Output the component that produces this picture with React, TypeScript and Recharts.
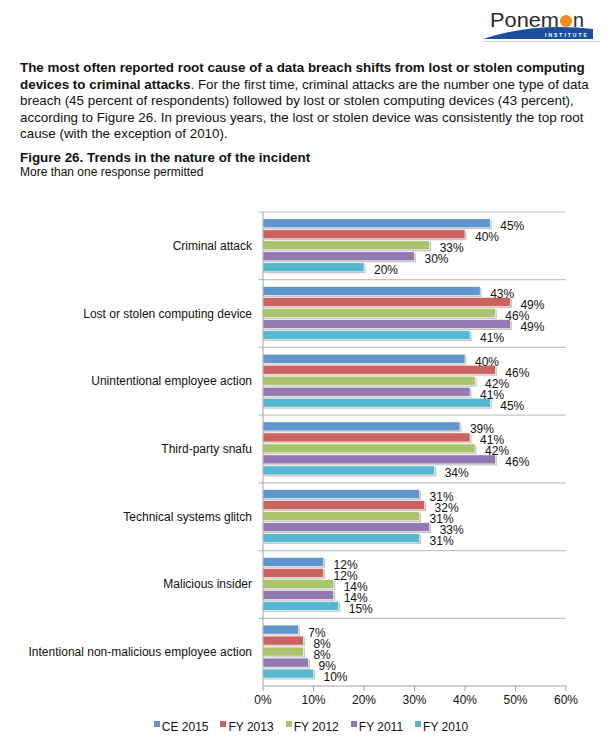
import React from 'react'
import { BarChart, Bar, XAxis, YAxis, CartesianGrid, Legend, LabelList } from 'recharts'

const categories = [
  'Criminal attack',
  'Lost or stolen computing device',
  'Unintentional employee action',
  'Third-party snafu',
  'Technical systems glitch',
  'Malicious insider',
  'Intentional non-malicious employee action',
]
const seriesNames = ['CE 2015', 'FY 2013', 'FY 2012', 'FY 2011', 'FY 2010']
const ce2015 = [45, 43, 40, 39, 31, 12, 7]
const fy2013 = [40, 49, 46, 41, 32, 12, 8]
const fy2012 = [33, 46, 42, 42, 31, 14, 8]
const fy2011 = [30, 49, 41, 46, 33, 14, 9]
const fy2010 = [20, 41, 45, 34, 31, 15, 10]
const xTicks = [0, 10, 20, 30, 40, 50, 60]
const colors = ['#6096cb', '#cd6360', '#a9c46c', '#9279b1', '#56b7d1']

const seriesValues = [ce2015, fy2013, fy2012, fy2011, fy2010]
const data = categories.map((name, i) => {
  const row: Record<string, string | number> = { name }
  seriesNames.forEach((s, j) => { row[s] = seriesValues[j][i] })
  return row
})

const font = '"Liberation Sans", Arial, Helvetica, sans-serif'

function ShadowBar(props: any) {
  const { x, y, width, height, fill } = props
  if (!width || width <= 0) return null
  return (
    <g>
      <rect x={x + 1.5} y={y + 1.5} width={width} height={height} fill="#c4c4c4" />
      <rect x={x} y={y} width={width} height={height} fill={fill} stroke="#ffffff" strokeWidth={0.6} />
    </g>
  )
}

function ValueLabel(props: any) {
  const { x, y, width, height, value } = props
  return (
    <text x={x + width + 10} y={y + height / 2 + 7} fontSize={12} fill="#111" fontFamily={font}>
      {value}%
    </text>
  )
}

function CategoryTick(props: any) {
  const { x, y, payload } = props
  return (
    <text x={x} y={y + 4} textAnchor="end" fontSize={12} fill="#111" fontFamily={font}>
      {payload.value}
    </text>
  )
}

function GridLine(props: any) {
  const { x1, x2, y1, y2 } = props
  return <line x1={x1 - 5} x2={x2} y1={y1} y2={y2} stroke="#c6c6c6" strokeWidth={1.2} />
}

function LegendContent() {
  return (
    <div style={{ display: 'flex', justifyContent: 'center', fontFamily: font, fontSize: 12, color: '#111', paddingLeft: 56 }}>
      {seriesNames.map((s, i) => (
        <div key={s} style={{ display: 'flex', alignItems: 'center', marginRight: i < seriesNames.length - 1 ? 12 : 0 }}>
          <span style={{ width: 6, height: 6, background: colors[i], display: 'inline-block', marginRight: 2, marginTop: -6 }} />
          <span>{s}</span>
        </div>
      ))}
    </div>
  )
}

function Logo() {
  return (
    <svg width={130} height={46} style={{ position: 'absolute', left: 475, top: 0 }}>
      <text x={15} y={27} fontSize={20} fill="#2b2b2b" fontFamily={font} textLength={69} lengthAdjust="spacingAndGlyphs">Ponem</text>
      <circle cx={91} cy={21} r={6} fill="#f08a1c" />
      <text x={98} y={27} fontSize={20} fill="#2b2b2b" fontFamily={font} textLength={11} lengthAdjust="spacingAndGlyphs">n</text>
      <path d="M8 39 Q60 22 118 29 L118 39 Z" fill="#1d4f9e" />
      <text x={70} y={36.5} fontSize={5} fill="#ffffff" fontFamily={font} letterSpacing={2} fontWeight="bold">INSTITUTE</text>
      <line x1={8} x2={125} y1={41.5} y2={41.5} stroke="#cfcfcf" strokeWidth={1} />
    </svg>
  )
}

export default function App() {
  return (
    <div style={{ position: 'absolute', left: 0, top: 0, width: 607, height: 752, background: '#fff', fontFamily: font }}>
      <Logo />
      <div style={{ position: 'absolute', left: 20, top: 60, width: 580, fontSize: 13.4, lineHeight: '16.6px', color: '#111' }}>
        <b>The most often reported root cause of a data breach shifts from lost or stolen computing devices to criminal attacks</b>. For the first time, criminal attacks are the number one type of data breach (45 percent of respondents) followed by lost or stolen computing devices (43 percent), according to Figure 26. In previous years, the lost or stolen device was consistently the top root cause (with the exception of 2010).
      </div>
      <div style={{ position: 'absolute', left: 20, top: 150, fontSize: 13.4, fontWeight: 'bold', color: '#111' }}>
        Figure 26. Trends in the nature of the incident
      </div>
      <div style={{ position: 'absolute', left: 20, top: 165, fontSize: 12, color: '#111' }}>
        More than one response permitted
      </div>
      <div style={{ position: 'absolute', left: 0, top: 190 }}>
        <BarChart
          width={607}
          height={562}
          data={data}
          layout="vertical"
          margin={{ top: 22, right: 41, bottom: 16, left: 0 }}
          barCategoryGap="10%"
          barGap={2}
        >
          <CartesianGrid
            vertical={false}
            horizontal={GridLine as any}
            horizontalCoordinatesGenerator={({ offset }: any) =>
              categories.map((_, i) => offset.top + (i * offset.height) / categories.length)
            }
          />
          <XAxis
            type="number"
            domain={[0, 60]}
            ticks={xTicks}
            tickFormatter={(v: number) => `${v}%`}
            tick={{ fontSize: 12, fill: '#111', fontFamily: font }}
            axisLine={{ stroke: '#a0a0a0' }}
            tickLine={{ stroke: '#a0a0a0' }}
            tickSize={5}
            tickMargin={4}
            height={34}
          />
          <YAxis
            type="category"
            dataKey="name"
            width={263}
            tick={<CategoryTick />}
            axisLine={{ stroke: '#a0a0a0' }}
            tickLine={false}
            tickMargin={5}
            interval={0}
          />
          <Legend verticalAlign="bottom" height={16} content={<LegendContent />} />
          {seriesNames.map((s, i) => (
            <Bar key={s} dataKey={s} fill={colors[i]} isAnimationActive={false} shape={<ShadowBar />}>
              <LabelList dataKey={s} content={<ValueLabel />} />
            </Bar>
          ))}
        </BarChart>
      </div>
    </div>
  )
}
